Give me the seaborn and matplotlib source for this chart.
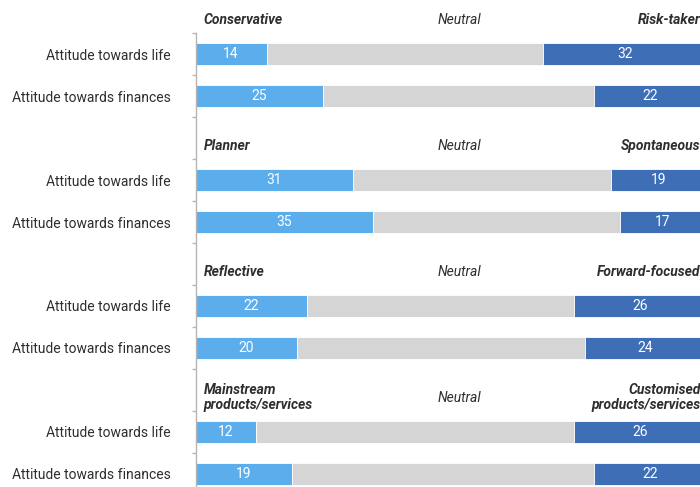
import matplotlib
matplotlib.use("Agg")
import matplotlib.pyplot as plt
import numpy as np
import pandas as pd
import seaborn as sns

# Survey attitudes: share leaning to each pole, and neutral in between
left_poles = ["Conservative", "Planner", "Reflective", "Mainstream\nproducts/services"]
right_poles = ["Risk-taker", "Spontaneous", "Forward-focused", "Customised\nproducts/services"]
aspects = ["Attitude towards life", "Attitude towards finances"]

left_vals = [14, 25, 31, 35, 22, 20, 12, 19]
neutral_vals = [54.5, 53.5, 50.7, 48.5, 52.6, 56.6, 62.6, 59.5]
right_vals = [32, 22, 19, 17, 26, 24, 26, 22]

LIGHT = "#5BAEEB"
GREY = "#D5D5D5"
DARK = "#3D6EB6"
AXIS_GREY = "#B5B5B5"
TEXT = "#2E2E2E"

sns.set_theme(style="white")
plt.rcParams["font.family"] = ["Roboto", "DejaVu Sans"]

# each pole pair gets two bar rows plus one spacer row for its header
pos = [3 * g + r for g in range(len(left_poles)) for r in range(len(aspects))]
df = pd.DataFrame({
    "pos": pos,
    "aspect": aspects * len(left_poles),
    "left": left_vals,
    "neutral": neutral_vals,
    "right": right_vals,
})
df["neutral_start"] = df["left"]
df["right_start"] = df["left"] + df["neutral"]

W, H = 700, 487
fig = plt.figure(figsize=(W / 100, H / 100), dpi=100)
ax_left, ax_top = 195.5, 33
row_px = 42
px_per_unit = 5.08
ax = fig.add_axes([ax_left / W, 0, 1 - ax_left / W, 1 - ax_top / H])

common = dict(y="pos", orient="y", native_scale=True, width=0.52,
              errorbar=None, saturation=1, linewidth=0.6, edgecolor="white", ax=ax)
sns.barplot(data=df, x="left", color=LIGHT, **common)
sns.barplot(data=df, x="neutral", color=GREY, left=df["neutral_start"].to_numpy(), **common)
sns.barplot(data=df, x="right", color=DARK, left=df["right_start"].to_numpy(), **common)

# value labels centred in the coloured segments
for _, r in df.iterrows():
    ax.text(r["left"] / 2, r["pos"], f"{r['left']:g}", ha="center", va="center",
            color="white", fontsize=10)
    ax.text(r["right_start"] + r["right"] / 2, r["pos"], f"{r['right']:g}",
            ha="center", va="center", color="white", fontsize=10)

# group headers above each pair of bars
for g, (lp, rp) in enumerate(zip(left_poles, right_poles)):
    hy = 3 * g - 0.82
    ax.text(1.6, hy, lp, ha="left", va="center", fontsize=10, fontweight="bold",
            fontstyle="italic", color=TEXT, linespacing=1.1)
    ax.text(52, hy, "Neutral", ha="center", va="center", fontsize=10,
            fontstyle="italic", color=TEXT)
    ax.text(99.4, hy, rp, ha="right", va="center", fontsize=10, fontweight="bold",
            fontstyle="italic", color=TEXT, linespacing=1.1, multialignment="right")

ax.set_xlabel("")
ax.set_ylabel("")
ax.set_xticks([])
ax.set_yticks(df["pos"])
ax.set_yticklabels(df["aspect"], fontsize=10, color=TEXT)
ax.set_yticks(np.arange(-0.5, 11, 1.0), minor=True)
ax.tick_params(axis="y", which="major", length=0, pad=18)
ax.tick_params(axis="y", which="minor", length=3, width=1, color=AXIS_GREY, left=True)

# limits last, so the tick setters cannot widen them
ax.set_xlim(0, (W - ax_left) / px_per_unit)
ax.set_ylim(-0.5 + (H - ax_top) / row_px, -0.5)

for side in ["top", "right", "bottom"]:
    ax.spines[side].set_visible(False)
ax.spines["left"].set_color(AXIS_GREY)
ax.spines["left"].set_linewidth(1.0)

fig.savefig("out.png", dpi=100)
